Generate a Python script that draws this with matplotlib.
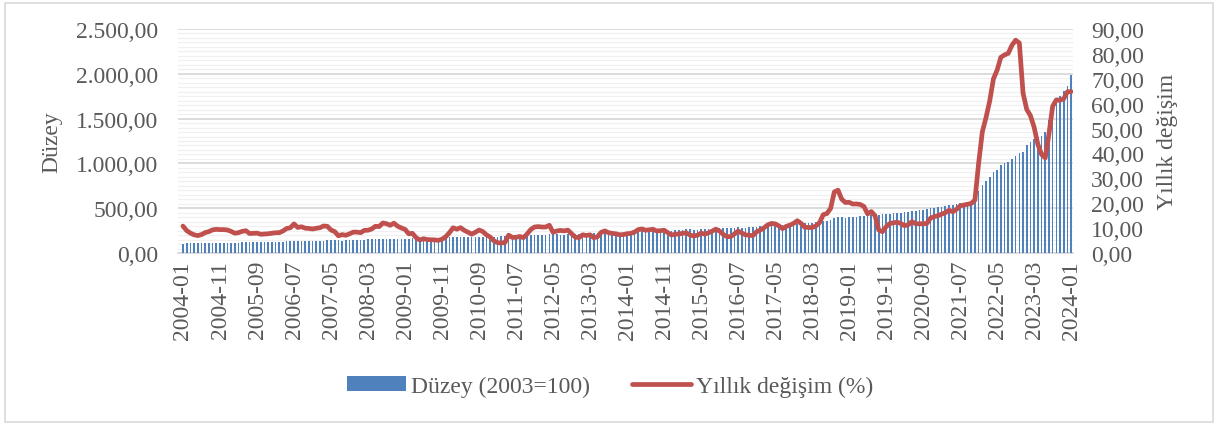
import numpy as np
import pandas as pd
import matplotlib
matplotlib.use('Agg')
import matplotlib.pyplot as plt
from matplotlib.ticker import MultipleLocator, FuncFormatter
from matplotlib.patches import Rectangle

# Monthly categories 2004-01 .. 2024-01
months = [str(p) for p in pd.period_range('2004-01', '2024-01', freq='M')]

# Düzey (2003=100), one row per year
duzey = [
    106.0, 106.5, 107.3, 108.0, 108.5, 108.6, 108.7, 109.1, 110.2, 112.4, 113.6, 113.9,
    114.5, 115.2, 115.6, 116.6, 117.9, 118.3, 117.2, 117.7, 119.0, 120.9, 122.3, 122.7,
    123.6, 124.2, 124.9, 126.9, 129.4, 130.4, 130.9, 129.8, 131.5, 133.0, 134.2, 134.5,
    135.8, 136.8, 138.5, 140.5, 141.3, 141.6, 139.9, 139.4, 140.8, 143.3, 145.5, 145.8,
    146.9, 149.2, 151.3, 154.1, 156.4, 156.6, 156.9, 155.7, 156.5, 160.3, 161.1, 160.4,
    160.9, 160.7, 163.2, 163.6, 164.6, 165.6, 165.4, 163.9, 164.8, 168.4, 170.0, 170.9,
    174.1, 176.6, 178.9, 180.3, 179.6, 179.4, 177.9, 177.6, 180.0, 183.0, 182.4, 181.9,
    182.6, 183.9, 186.0, 188.0, 192.5, 190.6, 189.0, 189.4, 191.0, 196.8, 199.7, 200.9,
    202.0, 203.1, 205.4, 208.9, 208.4, 207.5, 206.2, 206.1, 208.6, 212.2, 212.4, 213.2,
    216.7, 217.4, 220.5, 221.8, 222.0, 224.7, 224.5, 222.9, 224.9, 228.6, 227.9, 229.0,
    233.5, 234.5, 238.9, 242.6, 243.4, 245.2, 245.3, 244.1, 244.8, 249.2, 248.8, 247.7,
    250.5, 252.2, 257.1, 261.8, 263.1, 262.8, 262.0, 261.5, 264.1, 268.3, 268.9, 269.5,
    274.5, 274.4, 276.0, 278.9, 280.3, 282.8, 285.0, 282.6, 283.4, 287.8, 287.8, 292.5,
    299.7, 302.2, 306.0, 312.0, 313.0, 313.3, 312.5, 312.9, 316.0, 322.0, 327.1, 327.4,
    330.8, 333.3, 337.5, 345.7, 351.4, 360.2, 362.3, 369.0, 393.4, 402.5, 397.7, 393.9,
    398.0, 398.8, 403.8, 410.0, 417.3, 417.2, 422.5, 424.4, 429.6, 437.1, 439.9, 440.5,
    446.3, 448.4, 451.8, 455.0, 461.9, 469.7, 472.2, 474.4, 480.4, 489.1, 499.8, 504.8,
    513.3, 518.0, 523.5, 532.3, 537.1, 546.5, 555.1, 560.3, 570.7, 584.3, 604.8, 687.0,
    763.2, 799.9, 843.6, 904.8, 931.8, 977.9, 1001.0, 1015.7, 1046.9, 1084.0, 1115.3, 1128.5,
    1203.5, 1241.3, 1269.8, 1300.0, 1300.6, 1351.6, 1479.8, 1614.3, 1691.0, 1749.1, 1806.5, 1859.4,
    1984.0,
]

# Yıllık değişim (%)
yillik = [
    10.8, 9.0, 8.0, 7.3, 7.0, 7.4, 8.2, 8.6, 9.3, 9.5, 9.4, 9.4,
    9.24, 8.69, 7.94, 8.18, 8.70, 8.95, 7.82, 7.91, 7.99, 7.52, 7.61, 7.72,
    7.93, 8.15, 8.16, 8.83, 9.86, 10.12, 11.69, 10.26, 10.55, 9.98, 9.86, 9.65,
    9.93, 10.16, 10.86, 10.72, 9.23, 8.60, 6.90, 7.39, 7.12, 7.70, 8.40, 8.39,
    8.17, 9.10, 9.15, 9.66, 10.74, 10.61, 12.06, 11.77, 11.13, 11.99, 10.76, 10.06,
    9.50, 7.73, 7.89, 6.13, 5.24, 5.73, 5.39, 5.33, 5.27, 5.08, 5.53, 6.53,
    8.19, 10.13, 9.56, 10.19, 9.10, 8.37, 7.58, 8.33, 9.24, 8.62, 7.29, 6.40,
    4.90, 4.16, 3.99, 4.26, 7.17, 6.24, 6.31, 6.65, 6.15, 7.66, 9.48, 10.45,
    10.61, 10.43, 10.43, 11.14, 8.28, 8.87, 9.07, 8.88, 9.19, 7.80, 6.37, 6.16,
    7.31, 7.03, 7.29, 6.13, 6.51, 8.30, 8.88, 8.17, 7.88, 7.71, 7.32, 7.40,
    7.75, 7.89, 8.39, 9.38, 9.66, 9.16, 9.32, 9.54, 8.86, 8.96, 9.15, 8.17,
    7.24, 7.55, 7.61, 7.91, 8.09, 7.20, 6.81, 7.14, 7.95, 7.58, 8.10, 8.81,
    9.58, 8.78, 7.46, 6.57, 6.58, 7.64, 8.79, 8.05, 7.28, 7.16, 7.00, 8.53,
    9.22, 10.13, 11.29, 11.87, 11.72, 10.90, 9.79, 10.68, 11.20, 11.90, 12.98, 11.92,
    10.35, 10.26, 10.23, 10.85, 12.15, 15.39, 15.85, 17.90, 24.52, 25.24, 21.62, 20.30,
    20.35, 19.67, 19.71, 19.50, 18.71, 15.72, 16.65, 15.01, 9.26, 8.55, 10.56, 11.84,
    12.15, 12.37, 11.86, 10.94, 11.39, 12.62, 11.76, 11.77, 11.75, 11.89, 14.03, 14.60,
    14.97, 15.61, 16.19, 17.14, 16.59, 17.53, 18.95, 19.25, 19.58, 19.89, 21.31, 36.08,
    48.69, 54.44, 61.14, 69.97, 73.50, 78.62, 79.60, 80.21, 83.45, 85.51, 84.39, 64.27,
    57.68, 55.18, 50.51, 43.68, 39.59, 38.21, 47.83, 58.94, 61.53, 61.36, 61.98, 64.77,
    64.86,
]

plt.rcParams['font.family'] = ['Liberation Serif', 'DejaVu Serif']
fs = 17
text_color = '#595959'

W, H = 1220, 427
fig = plt.figure(figsize=(W / 100, H / 100), dpi=100)

# plot area in pixels
left, right, top, bottom = 178, 1073, 30, 254
ax = fig.add_axes([left / W, 1 - bottom / H, (right - left) / W, (bottom - top) / H])
ax2 = ax.twinx()

x = np.arange(len(months))
ax.bar(x, duzey, width=0.45, color='#4F81BD', linewidth=0, zorder=3, label='Düzey (2003=100)')
ax2.plot(x, yillik, color='#C0504D', linewidth=3.4, solid_capstyle='round',
         solid_joinstyle='round', zorder=4, label='Yıllık değişim (%)')

ax.set_xlim(-1.35, 240.5)
ax.set_ylim(0, 2500)
ax2.set_ylim(0, 90)

ax.yaxis.set_major_locator(MultipleLocator(500))
ax.yaxis.set_minor_locator(MultipleLocator(50))
ax2.yaxis.set_major_locator(MultipleLocator(10))

def tr_fmt(v, pos):
    s = f"{v:,.2f}"
    return s.replace(',', 'X').replace('.', ',').replace('X', '.')

ax.yaxis.set_major_formatter(FuncFormatter(tr_fmt))
ax2.yaxis.set_major_formatter(FuncFormatter(tr_fmt))

ax.grid(axis='y', which='major', color='#D9D9D9', linewidth=1.3, zorder=0)
ax.grid(axis='y', which='minor', color='#F0F0F0', linewidth=0.9, zorder=0)
ax.set_axisbelow(True)

ax.set_xticks(x[::10])
ax.set_xticklabels(months[::10], rotation=90)

for a in (ax, ax2):
    for s in a.spines.values():
        s.set_visible(False)
ax.spines['bottom'].set_visible(True)
ax.spines['bottom'].set_color('#D9D9D9')
ax.spines['bottom'].set_linewidth(1.3)

ax.tick_params(axis='x', length=0, pad=5, colors=text_color, labelsize=fs)
ax.tick_params(axis='y', which='both', length=0, pad=14, colors=text_color, labelsize=fs)
ax2.tick_params(axis='y', length=0, pad=13, colors=text_color, labelsize=fs)

fig.text(52 / W, 1 - 142 / H, 'Düzey', rotation=90, ha='center', va='center',
         color=text_color, fontsize=fs)
fig.text(1168 / W, 1 - 142 / H, 'Yıllık değişim', rotation=90, ha='center', va='center',
         color=text_color, fontsize=fs)

h1, l1 = ax.get_legend_handles_labels()
h2, l2 = ax2.get_legend_handles_labels()
fig.legend(h1 + h2, l1 + l2, loc='center', bbox_to_anchor=(0.5, 1 - 387 / H),
           bbox_transform=fig.transFigure, ncol=2, frameon=False, fontsize=17,
           handlelength=2.5, handleheight=0.6, handletextpad=0.2, columnspacing=1.8,
           labelcolor=text_color)

# outer chart border
fig.patches.append(Rectangle((5 / W, 4 / H), 1208 / W, 419 / H, transform=fig.transFigure,
                             fill=False, edgecolor='#D9D9D9', linewidth=1.2))

fig.savefig('out.png', dpi=100)
